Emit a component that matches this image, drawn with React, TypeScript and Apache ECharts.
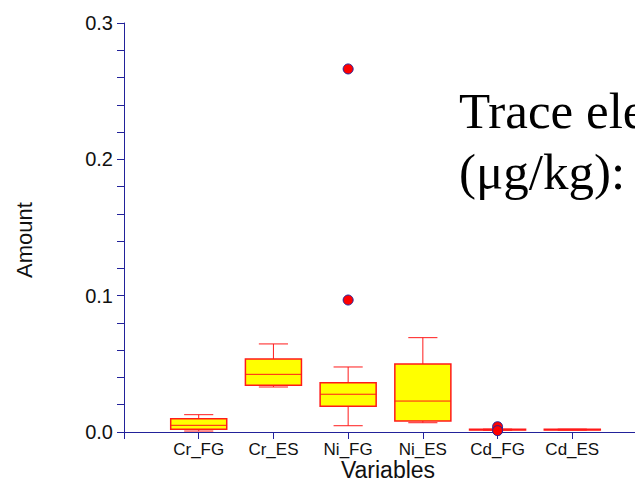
import React, { useEffect, useRef } from "react";
import * as echarts from "echarts";

const categories = ["Cr_FG", "Cr_ES", "Ni_FG", "Ni_ES", "Cd_FG", "Cd_ES"];
const whiskerLow = [0.0007, 0.033, 0.0046, 0.0068, 0.0013, 0.0014];
const quartile1 = [0.002, 0.0343, 0.0189, 0.0081, 0.0014, 0.0015];
const medians = [0.0049, 0.0423, 0.0277, 0.0227, 0.0017, 0.0017];
const quartile3 = [0.0098, 0.0536, 0.0362, 0.0499, 0.002, 0.002];
const whiskerHigh = [0.0127, 0.0646, 0.0477, 0.0692, 0.0021, 0.0021];
const outlierCategory = ["Ni_FG", "Ni_FG", "Cd_FG", "Cd_FG"];
const outlierValues = [0.0968, 0.2663, 0.0039, 0.001];
const yTicks = [0, 0.1, 0.2, 0.3];

const AXIS = "#22229a";
const RED = "#ff1a1a";

export default function App() {
  const ref = useRef<HTMLDivElement>(null);
  useEffect(() => {
    if (!ref.current) return;
    const chart = echarts.init(ref.current, null, { renderer: "svg" });
    const boxData = categories.map((c, i) => [
      i + 1,
      whiskerLow[i],
      quartile1[i],
      medians[i],
      quartile3[i],
      whiskerHigh[i],
    ]);
    const outData = outlierCategory.map((c, i) => [
      categories.indexOf(c) + 1,
      outlierValues[i],
    ]);
    chart.setOption({
      animation: false,
      backgroundColor: "#ffffff",
      grid: { left: 124, top: 23, bottom: 58, right: 13 },
      xAxis: {
        type: "value",
        min: 0,
        max: 7,
        interval: 1,
        axisLine: { show: true, onZero: false, lineStyle: { color: AXIS, width: 1 } },
        axisTick: { show: true, length: 7, lineStyle: { color: AXIS } },
        splitLine: { show: false },
        axisLabel: {
          margin: 9,
          fontFamily: "Liberation Sans",
          fontSize: 17,
          color: "#111",
          showMinLabel: true,
          showMaxLabel: true,
          formatter: (v: number) => {
            const k = Math.round(v);
            return k >= 1 && k <= categories.length ? categories[k - 1] : "";
          },
        },
      },
      yAxis: {
        type: "value",
        min: yTicks[0],
        max: yTicks[yTicks.length - 1],
        interval: 0.1,
        axisLine: { show: true, onZero: false, lineStyle: { color: AXIS, width: 1 } },
        axisTick: { show: true, length: 7, lineStyle: { color: AXIS } },
        minorTick: { show: true, splitNumber: 5, length: 7, lineStyle: { color: AXIS } },
        splitLine: { show: false },
        minorSplitLine: { show: false },
        axisLabel: {
          margin: 11,
          fontFamily: "Liberation Sans",
          fontSize: 20,
          color: "#111",
          formatter: (v: number) => v.toFixed(1),
        },
      },
      series: [
        {
          type: "custom",
          data: boxData,
          encode: { x: 0, y: [1, 2, 3, 4, 5] },
          renderItem: (params: any, api: any) => {
            const x = api.value(0);
            const lo = api.coord([x, api.value(1)]);
            const q1 = api.coord([x, api.value(2)]);
            const md = api.coord([x, api.value(3)]);
            const q3 = api.coord([x, api.value(4)]);
            const hi = api.coord([x, api.value(5)]);
            const band = api.size([1, 0])[0];
            const hb = band * 0.375;
            const hc = band * 0.195;
            const cx = lo[0];
            const ls = { stroke: RED, lineWidth: 1 };
            return {
              type: "group",
              children: [
                { type: "line", shape: { x1: cx, y1: q3[1], x2: cx, y2: hi[1] }, style: ls },
                { type: "line", shape: { x1: cx, y1: lo[1], x2: cx, y2: q1[1] }, style: ls },
                { type: "line", shape: { x1: cx - hc, y1: hi[1], x2: cx + hc, y2: hi[1] }, style: ls },
                { type: "line", shape: { x1: cx - hc, y1: lo[1], x2: cx + hc, y2: lo[1] }, style: ls },
                {
                  type: "rect",
                  shape: { x: cx - hb, y: q3[1], width: hb * 2, height: q1[1] - q3[1] },
                  style: { fill: "#ffff00", stroke: RED, lineWidth: 1.5 },
                },
                { type: "line", shape: { x1: cx - hb, y1: md[1], x2: cx + hb, y2: md[1] }, style: ls },
              ],
            };
          },
          z: 2,
        },
        {
          type: "scatter",
          data: outData,
          symbol: "circle",
          symbolSize: 10,
          itemStyle: { color: "#ff0000", borderColor: AXIS, borderWidth: 1, opacity: 1 },
          z: 3,
        },
      ],
      graphic: [
        {
          type: "text",
          x: 24,
          y: 240,
          rotation: Math.PI / 2,
          style: {
            text: "Amount",
            fontFamily: "Liberation Sans",
            fontSize: 22,
            fill: "#111",
            align: "center",
            verticalAlign: "middle",
          },
        },
        {
          type: "text",
          x: 388,
          y: 470,
          style: {
            text: "Variables",
            fontFamily: "Liberation Sans",
            fontSize: 23,
            fill: "#111",
            align: "center",
            verticalAlign: "middle",
          },
        },
        {
          type: "text",
          x: 459,
          y: 111,
          style: {
            text: "Trace elements",
            fontFamily: "Liberation Serif",
            fontSize: 51,
            fill: "#000",
            align: "left",
            verticalAlign: "middle",
          },
        },
        {
          type: "text",
          x: 459,
          y: 172,
          style: {
            text: "(μg/kg):",
            fontFamily: "Liberation Serif",
            fontSize: 51,
            fill: "#000",
            align: "left",
            verticalAlign: "middle",
          },
        },
      ],
    });
    return () => chart.dispose();
  }, []);
  return (
    <div style={{ position: "fixed", left: 0, top: 0, width: 635, height: 490, overflow: "hidden" }}>
      <div ref={ref} style={{ width: 660, height: 490 }} />
    </div>
  );
}
